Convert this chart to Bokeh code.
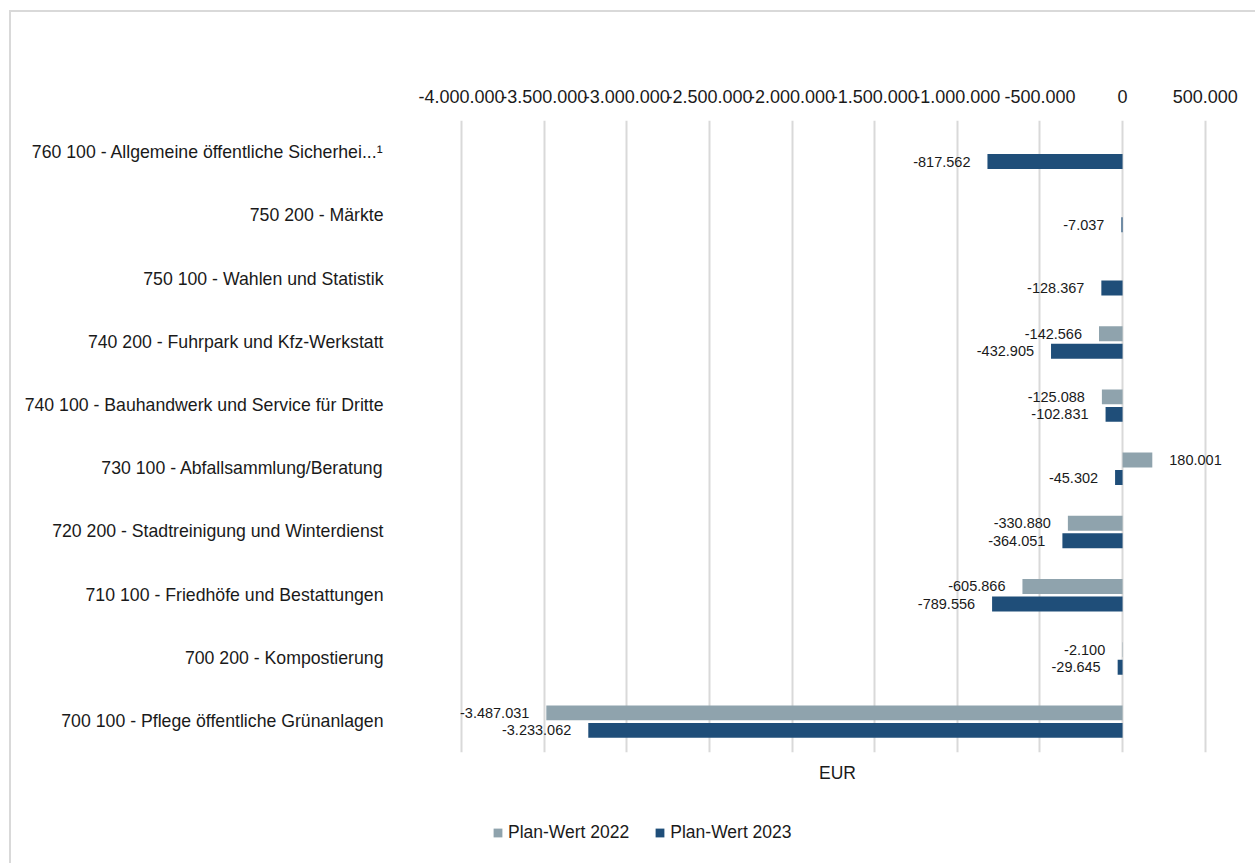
from bokeh.plotting import figure
from bokeh.layouts import column
from bokeh.models import (ColumnDataSource, FactorRange, Range1d, FixedTicker, CustomJSTickFormatter,
                          LinearAxis, Legend, LegendItem)
from bokeh.transform import dodge
from bokeh.core.properties import value
from bokeh.embed import file_html
from bokeh.resources import INLINE

categories = [
    "700 100 - Pflege öffentliche Grünanlagen",
    "700 200 - Kompostierung",
    "710 100 - Friedhöfe und Bestattungen",
    "720 200 - Stadtreinigung und Winterdienst",
    "730 100 - Abfallsammlung/Beratung",
    "740 100 - Bauhandwerk und Service für Dritte",
    "740 200 - Fuhrpark und Kfz-Werkstatt",
    "750 100 - Wahlen und Statistik",
    "750 200 - Märkte",
    "760 100 - Allgemeine öffentliche Sicherhei...¹",
]
plan_2022 = [-3487031, -2100, -605866, -330880, 180001, -125088, -142566, None, None, None]
plan_2023 = [-3233062, -29645, -789556, -364051, -45302, -102831, -432905, -128367, -7037, -817562]
x_ticks = [-4000000, -3500000, -3000000, -2500000, -2000000, -1500000, -1000000, -500000, 0, 500000]
series_names = ["Plan-Wert 2022", "Plan-Wert 2023"]
colors = ["#8fa3ad", "#1f4e79"]

FONT = "Liberation Sans"
TXT = "#1a1a1a"

def fmt(v):
    return f"{v:,}".replace(",", ".")

def make_source(vals):
    cats, xs, labels, aligns, offs = [], [], [], [], []
    for c, v in zip(categories, vals):
        if v is None:
            continue
        cats.append(c)
        xs.append(v)
        labels.append(fmt(v))
        aligns.append("left" if v > 0 else "right")
        offs.append(17 if v > 0 else -17)
    return ColumnDataSource(dict(cat=cats, x=xs, label=labels, align=aligns, off=offs))

src22 = make_source(plan_2022)
src23 = make_source(plan_2023)

W = 1244
HA, HB = 788, 63
p = figure(width=W, height=HA, output_backend="svg", toolbar_location=None,
           y_range=FactorRange(factors=categories, range_padding=0),
           x_range=Range1d(-4200000, 750000),
           x_axis_location="above",
           min_border_left=417, min_border_right=9, min_border_top=108, min_border_bottom=48)
p.outline_line_color = None
p.background_fill_color = "white"
p.border_fill_color = "white"

off22, off23 = 0.127, -0.15
h = 0.237
r22 = p.hbar(y=dodge("cat", off22, range=p.y_range), right="x", left=0, height=h,
             source=src22, color=colors[0], line_color=None)
r23 = p.hbar(y=dodge("cat", off23, range=p.y_range), right="x", left=0, height=h,
             source=src23, color=colors[1], line_color=None)

for src, off in ((src22, off22), (src23, off23)):
    p.text(x="x", y=dodge("cat", off, range=p.y_range), text="label", source=src,
           text_align="align", x_offset="off", text_baseline="middle",
           text_font=value(FONT), text_font_size="14.5px", text_color=TXT)

# top axis
xa = p.xaxis[0]
xa.ticker = FixedTicker(ticks=x_ticks)
xa.formatter = CustomJSTickFormatter(code="""
const s = Math.abs(tick).toFixed(0).replace(/\\B(?=(\\d{3})+(?!\\d))/g, ".");
return (tick < 0 ? "-" : "") + s;
""")
xa.axis_line_color = None
xa.major_tick_line_color = None
xa.minor_tick_line_color = None
xa.major_label_text_font = FONT
xa.major_label_text_font_size = "18px"
xa.major_label_text_color = TXT
xa.major_label_standoff = 12

# bottom axis with title only
ba = LinearAxis(ticker=FixedTicker(ticks=[]), axis_label="EUR")
ba.axis_line_color = None
ba.major_tick_line_color = None
ba.minor_tick_line_color = None
ba.axis_label_text_font = FONT
ba.axis_label_text_font_size = "17.5px"
ba.axis_label_text_font_style = "normal"
ba.axis_label_text_color = TXT
ba.axis_label_standoff = 10
p.add_layout(ba, "below")

ya = p.yaxis[0]
ya.axis_line_color = None
ya.major_tick_line_color = None
ya.minor_tick_line_color = None
ya.major_label_text_font = FONT
ya.major_label_text_font_size = "17.7px"
ya.major_label_text_color = TXT
ya.major_label_standoff = 39

p.xgrid.grid_line_color = "#d9d9d9"
p.xgrid.grid_line_width = 2
p.xgrid.ticker = FixedTicker(ticks=x_ticks)
p.ygrid.grid_line_color = None

# legend strip (its bars have no height; only the legend shows)
q = figure(width=W, height=HB, output_backend="svg", toolbar_location=None,
           x_range=Range1d(-4200000, 750000), y_range=FactorRange(factors=categories),
           x_axis_type=None, y_axis_type=None,
           min_border_left=0, min_border_right=0, min_border_top=0, min_border_bottom=0)
q.outline_line_color = None
q.grid.visible = False
q.background_fill_color = "white"
q.border_fill_color = "white"
l22 = q.hbar(y="cat", right="x", left=0, height=0, source=src22, color=colors[0], line_color=None)
l23 = q.hbar(y="cat", right="x", left=0, height=0, source=src23, color=colors[1], line_color=None)
legend = Legend(items=[LegendItem(label=series_names[0], renderers=[l22]),
                       LegendItem(label=series_names[1], renderers=[l23])],
                location=(64, 20), orientation="horizontal",
                label_text_font=FONT, label_text_font_size="17.5px", label_text_color=TXT,
                glyph_width=11, glyph_height=11, label_standoff=5, spacing=25, label_height=20,
                padding=0, margin=0, border_line_color=None, background_fill_alpha=0)
q.add_layout(legend, "center")

lay = column(p, q, spacing=0)
lay.styles = {"border-left": "2px solid #d9d9d9", "border-top": "2px solid #d9d9d9",
              "margin-left": "9px", "margin-top": "10px"}

open("out.html", "w").write(file_html(lay, INLINE))
